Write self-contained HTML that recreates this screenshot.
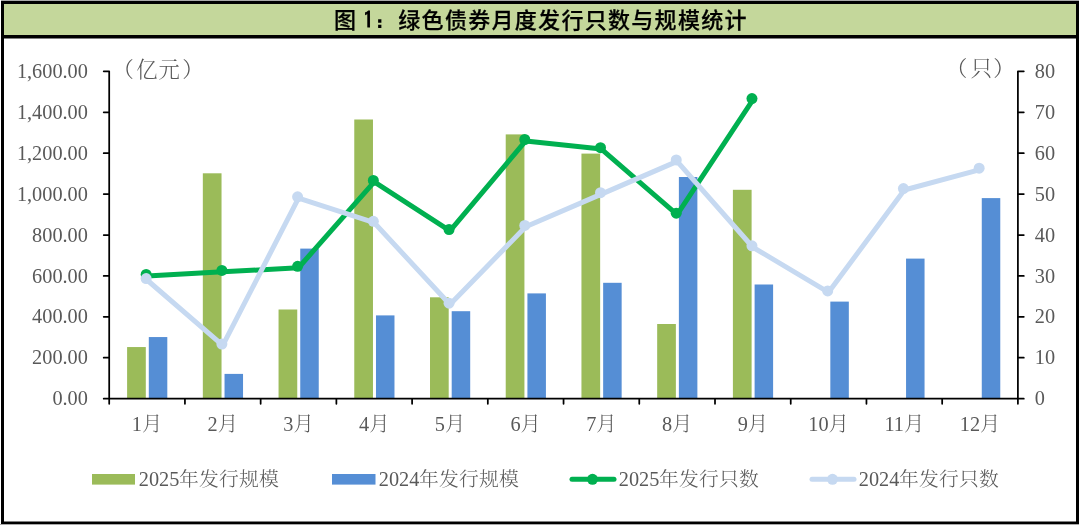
<!DOCTYPE html>
<html><head><meta charset="utf-8"><style>
html,body{margin:0;padding:0;background:#fff;}
body{width:1080px;height:525px;overflow:hidden;}
svg{display:block;will-change:transform;}
</style></head><body>
<svg width="1080" height="525" viewBox="0 0 1080 525">
<rect x="0" y="0" width="1080" height="525" fill="#ffffff"/>
<rect x="1" y="0" width="1078" height="1" fill="#aaaaaa"/>
<rect x="0" y="524" width="1079" height="1" fill="#aaaaaa"/>
<rect x="1" y="1" width="1078" height="523" fill="#000000"/>
<rect x="4" y="4" width="1072" height="517.5" fill="#ffffff"/>
<rect x="4" y="4" width="1072" height="31" fill="#C4D79B"/>
<rect x="4" y="35" width="1072" height="3.5" fill="#000000"/>
<rect x="127.1" y="347.05" width="18.7" height="51.6" fill="#9BBB59"/>
<rect x="202.83" y="173.3" width="18.7" height="225.35" fill="#9BBB59"/>
<rect x="278.55" y="309.5" width="18.7" height="89.15" fill="#9BBB59"/>
<rect x="354.27" y="119.5" width="18.7" height="279.15" fill="#9BBB59"/>
<rect x="430" y="297.3" width="18.7" height="101.35" fill="#9BBB59"/>
<rect x="505.72" y="134.4" width="18.7" height="264.25" fill="#9BBB59"/>
<rect x="581.45" y="153.6" width="18.7" height="245.05" fill="#9BBB59"/>
<rect x="657.17" y="324" width="18.7" height="74.65" fill="#9BBB59"/>
<rect x="732.9" y="189.8" width="18.7" height="208.85" fill="#9BBB59"/>
<rect x="148.8" y="337.05" width="18.5" height="61.6" fill="#558ED5"/>
<rect x="224.53" y="373.9" width="18.5" height="24.75" fill="#558ED5"/>
<rect x="300.25" y="248.6" width="18.5" height="150.05" fill="#558ED5"/>
<rect x="375.98" y="315.4" width="18.5" height="83.25" fill="#558ED5"/>
<rect x="451.7" y="311.2" width="18.5" height="87.45" fill="#558ED5"/>
<rect x="527.42" y="293.4" width="18.5" height="105.25" fill="#558ED5"/>
<rect x="603.15" y="282.8" width="18.5" height="115.85" fill="#558ED5"/>
<rect x="678.88" y="177" width="18.5" height="221.65" fill="#558ED5"/>
<rect x="754.6" y="284.5" width="18.5" height="114.15" fill="#558ED5"/>
<rect x="830.33" y="301.6" width="18.5" height="97.05" fill="#558ED5"/>
<rect x="906.05" y="258.6" width="18.5" height="140.05" fill="#558ED5"/>
<rect x="981.77" y="198.1" width="18.5" height="200.55" fill="#558ED5"/>
<path d="M109.2 71.35V403.85M1017.9 71.35V403.85M103.7 398.65H1023.8M103.7 398.65H109.2M1017.9 398.65H1023.8M103.7 357.74H109.2M1017.9 357.74H1023.8M103.7 316.82H109.2M1017.9 316.82H1023.8M103.7 275.91H109.2M1017.9 275.91H1023.8M103.7 235H109.2M1017.9 235H1023.8M103.7 194.09H109.2M1017.9 194.09H1023.8M103.7 153.18H109.2M1017.9 153.18H1023.8M103.7 112.26H109.2M1017.9 112.26H1023.8M103.7 71.35H109.2M1017.9 71.35H1023.8M109.2 398.65V403.85M184.93 398.65V403.85M260.65 398.65V403.85M336.38 398.65V403.85M412.1 398.65V403.85M487.82 398.65V403.85M563.55 398.65V403.85M639.27 398.65V403.85M715 398.65V403.85M790.73 398.65V403.85M866.45 398.65V403.85M942.17 398.65V403.85M1017.9 398.65V403.85" stroke="#000" stroke-width="1.75" fill="none" stroke-linecap="round" stroke-linejoin="round"/>
<path d="M147.06 275.91 L222.79 271.82 L298.51 267.73 L374.24 181.81 L449.96 230.91 L525.69 140.9 L601.41 149.08 L677.14 214.54 L752.86 99.99" stroke="#00B050" stroke-width="5" fill="none" stroke-linecap="round" stroke-linejoin="round"/>
<circle cx="146.16" cy="274.51" r="5.5" fill="#00B050"/>
<circle cx="221.89" cy="270.42" r="5.5" fill="#00B050"/>
<circle cx="297.61" cy="266.33" r="5.5" fill="#00B050"/>
<circle cx="373.34" cy="180.41" r="5.5" fill="#00B050"/>
<circle cx="449.06" cy="229.51" r="5.5" fill="#00B050"/>
<circle cx="524.79" cy="139.5" r="5.5" fill="#00B050"/>
<circle cx="600.51" cy="147.68" r="5.5" fill="#00B050"/>
<circle cx="676.24" cy="213.14" r="5.5" fill="#00B050"/>
<circle cx="751.96" cy="98.59" r="5.5" fill="#00B050"/>
<path d="M147.06 280 L222.79 345.46 L298.51 198.18 L374.24 222.73 L449.96 304.55 L525.69 226.82 L601.41 194.09 L677.14 161.36 L752.86 247.27 L828.59 292.28 L904.31 190 L980.04 169.54" stroke="#C6D9F1" stroke-width="5" fill="none" stroke-linecap="round" stroke-linejoin="round"/>
<circle cx="146.16" cy="278.6" r="5.5" fill="#C6D9F1"/>
<circle cx="221.89" cy="344.06" r="5.5" fill="#C6D9F1"/>
<circle cx="297.61" cy="196.78" r="5.5" fill="#C6D9F1"/>
<circle cx="373.34" cy="221.33" r="5.5" fill="#C6D9F1"/>
<circle cx="449.06" cy="303.15" r="5.5" fill="#C6D9F1"/>
<circle cx="524.79" cy="225.42" r="5.5" fill="#C6D9F1"/>
<circle cx="600.51" cy="192.69" r="5.5" fill="#C6D9F1"/>
<circle cx="676.24" cy="159.96" r="5.5" fill="#C6D9F1"/>
<circle cx="751.96" cy="245.87" r="5.5" fill="#C6D9F1"/>
<circle cx="827.69" cy="290.88" r="5.5" fill="#C6D9F1"/>
<circle cx="903.41" cy="188.6" r="5.5" fill="#C6D9F1"/>
<circle cx="979.14" cy="168.14" r="5.5" fill="#C6D9F1"/>
<g font-family="'Liberation Serif', 'Noto Serif CJK SC', serif" font-size="20.3" fill="#595959">
<text x="87.9" y="405.25" text-anchor="end">0.00</text>
<text x="87.9" y="364.34" text-anchor="end">200.00</text>
<text x="87.9" y="323.43" text-anchor="end">400.00</text>
<text x="87.9" y="282.51" text-anchor="end">600.00</text>
<text x="87.9" y="241.6" text-anchor="end">800.00</text>
<text x="87.9" y="200.69" text-anchor="end">1,000.00</text>
<text x="87.9" y="159.78" text-anchor="end">1,200.00</text>
<text x="87.9" y="118.86" text-anchor="end">1,400.00</text>
<text x="87.9" y="77.95" text-anchor="end">1,600.00</text>
<text x="1034.8" y="405.25">0</text>
<text x="1034.8" y="364.34">10</text>
<text x="1034.8" y="323.43">20</text>
<text x="1034.8" y="282.51">30</text>
<text x="1034.8" y="241.6">40</text>
<text x="1034.8" y="200.69">50</text>
<text x="1034.8" y="159.78">60</text>
<text x="1034.8" y="118.86">70</text>
<text x="1034.8" y="77.95">80</text>
<text x="147.06" y="430.7" text-anchor="middle">1<tspan font-family="'Noto Serif CJK SC', serif" font-weight="300">月</tspan></text>
<text x="222.79" y="430.7" text-anchor="middle">2<tspan font-family="'Noto Serif CJK SC', serif" font-weight="300">月</tspan></text>
<text x="298.51" y="430.7" text-anchor="middle">3<tspan font-family="'Noto Serif CJK SC', serif" font-weight="300">月</tspan></text>
<text x="374.24" y="430.7" text-anchor="middle">4<tspan font-family="'Noto Serif CJK SC', serif" font-weight="300">月</tspan></text>
<text x="449.96" y="430.7" text-anchor="middle">5<tspan font-family="'Noto Serif CJK SC', serif" font-weight="300">月</tspan></text>
<text x="525.69" y="430.7" text-anchor="middle">6<tspan font-family="'Noto Serif CJK SC', serif" font-weight="300">月</tspan></text>
<text x="601.41" y="430.7" text-anchor="middle">7<tspan font-family="'Noto Serif CJK SC', serif" font-weight="300">月</tspan></text>
<text x="677.14" y="430.7" text-anchor="middle">8<tspan font-family="'Noto Serif CJK SC', serif" font-weight="300">月</tspan></text>
<text x="752.86" y="430.7" text-anchor="middle">9<tspan font-family="'Noto Serif CJK SC', serif" font-weight="300">月</tspan></text>
<text x="828.59" y="430.7" text-anchor="middle">10<tspan font-family="'Noto Serif CJK SC', serif" font-weight="300">月</tspan></text>
<text x="904.31" y="430.7" text-anchor="middle">11<tspan font-family="'Noto Serif CJK SC', serif" font-weight="300">月</tspan></text>
<text x="980.04" y="430.7" text-anchor="middle">12<tspan font-family="'Noto Serif CJK SC', serif" font-weight="300">月</tspan></text>
</g>
<text x="112.5 136.15 158.45 182.2" y="76.6" font-family="'Noto Serif CJK SC', serif" font-size="21.3" fill="#595959" font-weight="300">（亿元）</text>
<text x="946 970.7 993.3" y="76.4" font-family="'Noto Serif CJK SC', serif" font-size="21.3" fill="#595959" font-weight="300">（只）</text>
<rect x="92" y="474" width="43" height="10.6" fill="#9BBB59"/>
<rect x="332" y="474" width="43.5" height="10.6" fill="#558ED5"/>
<path d="M572 479.3H614" stroke="#00B050" stroke-width="5" stroke-linecap="round"/>
<circle cx="592.5" cy="479.3" r="5.5" fill="#00B050"/>
<path d="M812 479.3H854" stroke="#C6D9F1" stroke-width="5" stroke-linecap="round"/>
<circle cx="832.5" cy="479.3" r="5.5" fill="#C6D9F1"/>
<text x="138.8" y="485.7" font-family="'Liberation Serif', 'Noto Serif CJK SC', serif" font-size="20.3" fill="#595959">2025</text>
<text x="179.1 199.1 219.1 239.1 259.1" y="486" font-family="'Noto Serif CJK SC', serif" font-size="19.8" fill="#595959" font-weight="300">年发行规模</text>
<text x="378.8" y="485.7" font-family="'Liberation Serif', 'Noto Serif CJK SC', serif" font-size="20.3" fill="#595959">2024</text>
<text x="419.1 439.1 459.1 479.1 499.1" y="486" font-family="'Noto Serif CJK SC', serif" font-size="19.8" fill="#595959" font-weight="300">年发行规模</text>
<text x="618.8" y="485.7" font-family="'Liberation Serif', 'Noto Serif CJK SC', serif" font-size="20.3" fill="#595959">2025</text>
<text x="659.1 679.1 699.1 719.1 739.1" y="486" font-family="'Noto Serif CJK SC', serif" font-size="19.8" fill="#595959" font-weight="300">年发行只数</text>
<text x="858.8" y="485.7" font-family="'Liberation Serif', 'Noto Serif CJK SC', serif" font-size="20.3" fill="#595959">2024</text>
<text x="899.1 919.1 939.1 959.1 979.1" y="486" font-family="'Noto Serif CJK SC', serif" font-size="19.8" fill="#595959" font-weight="300">年发行只数</text>
<text x="333.9" y="27.9" font-family="'Noto Sans CJK SC', sans-serif" font-size="22" fill="#000" font-weight="500" stroke="#000" stroke-width="0.25">图</text>
<text x="363" y="28.1" font-family="'IPAGothic', sans-serif" font-size="21.5" fill="#000" stroke="#000" stroke-width="0.9">1</text>
<text x="372.15" y="27.8" font-family="'IPAGothic', sans-serif" font-size="15" fill="#000" stroke="#000" stroke-width="1.5">：</text>
<text x="398.3 421.6 444.9 468.2 491.5 514.8 538.1 561.4 584.7 608 631.3 654.6 677.9 701.2 724.5" y="27.9" font-family="'Noto Sans CJK SC', sans-serif" font-size="22" fill="#000" font-weight="500" stroke="#000" stroke-width="0.25">绿色债券月度发行只数与规模统计</text>
</svg>
</body></html>
